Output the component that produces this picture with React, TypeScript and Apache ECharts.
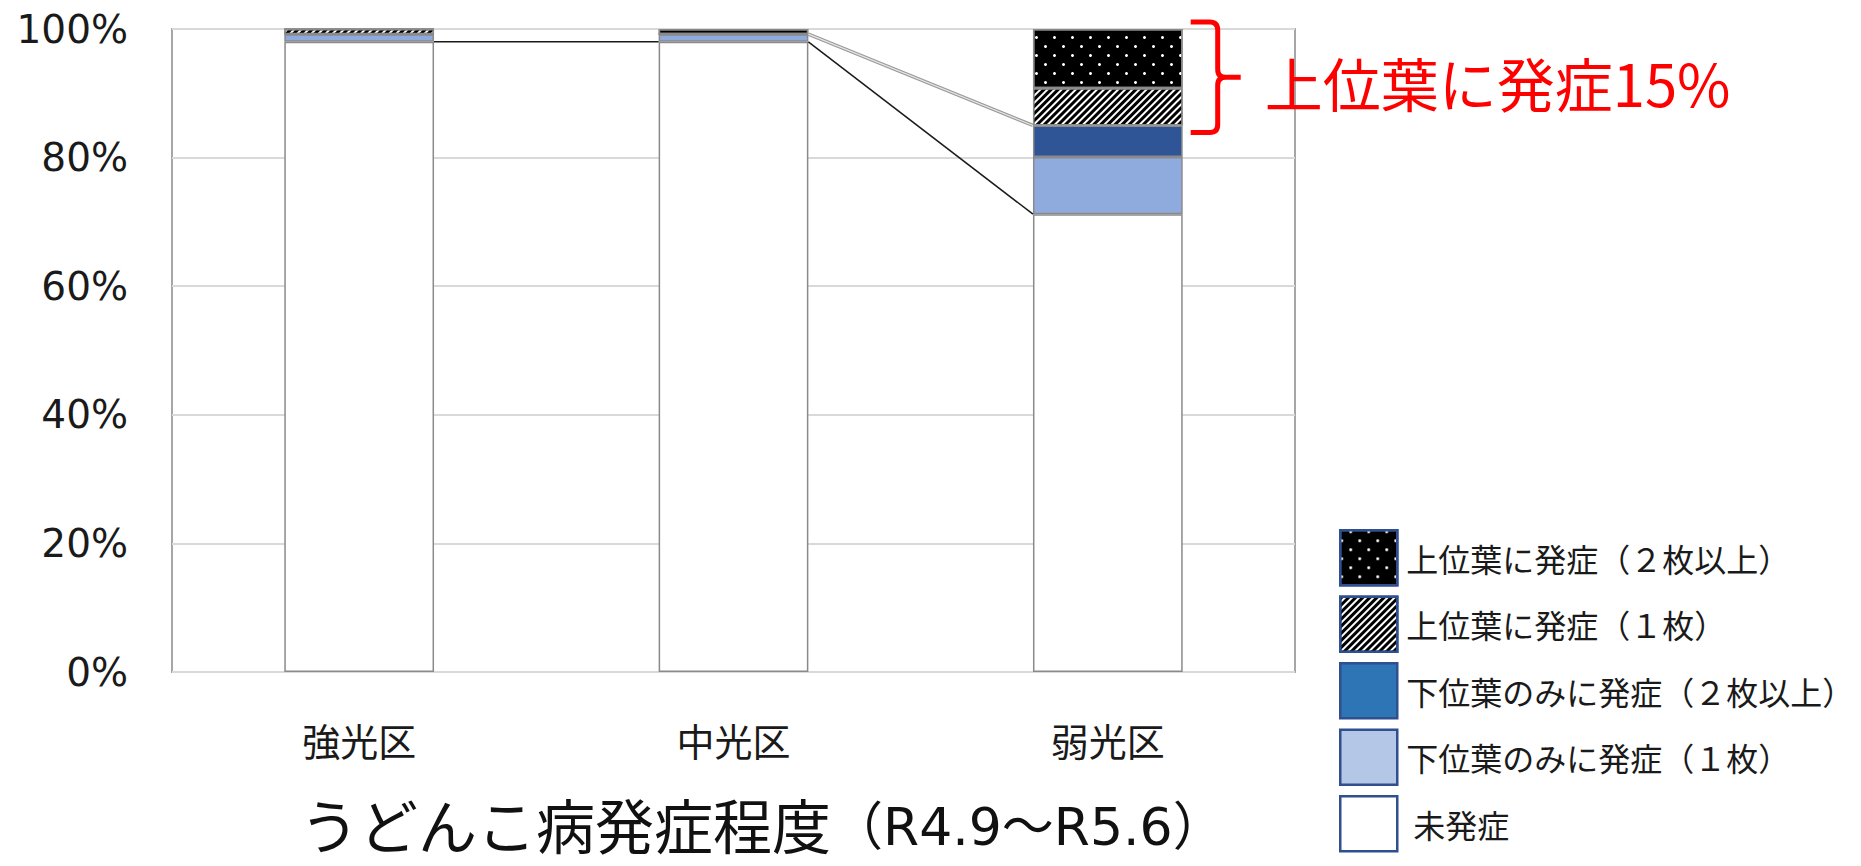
import { useEffect, useRef } from 'react';
import * as echarts from 'echarts';

// Plot categories and stacked shares (%), bottom to top
const categories = ['強光区', '中光区', '弱光区'];
const noSymptom = [98.0, 98.0, 71.2];
const lowerLeafOne = [1.2, 1.2, 8.9];
const lowerLeafTwoPlus = [0, 0, 4.9];
const upperLeafOne = [0.8, 0, 5.8];
const upperLeafTwoPlus = [0, 0.8, 9.2];

const seriesNames = [
  '未発症',
  '下位葉のみに発症（１枚）',
  '下位葉のみに発症（２枚以上）',
  '上位葉に発症（１枚）',
  '上位葉に発症（２枚以上）',
];
const legendOrder = [
  '上位葉に発症（２枚以上）',
  '上位葉に発症（１枚）',
  '下位葉のみに発症（２枚以上）',
  '下位葉のみに発症（１枚）',
  '未発症',
];

// y axis range and step (%)
const yMin = 0;
const yMax = 100;
const yStep = 20;

// Series lines between neighbouring bars: [from bar, to bar, number of stacked segments]
const seriesLinePairs = [
  [0, 1, 1],
  [1, 2, 1],
  [1, 2, 3],
];

// Bracket over the upper-leaf segments of the third bar: [bar, first segment, last segment]
const bracketSpan = [2, 3, 5];

const annotationText = '上位葉に発症15%';
const titleMain = 'うどんこ病発症程度';
const titleSub = '（R4.9～R5.6）';

const CJK = '"Noto Sans CJK JP", "Noto Sans", sans-serif';
const NUM = '"DejaVu Sans", sans-serif';

const stacks = [noSymptom, lowerLeafOne, lowerLeafTwoPlus, upperLeafOne, upperLeafTwoPlus];
const cumulative = (bar: number, depth: number) =>
  stacks.slice(0, depth).reduce((s, arr) => s + arr[bar], 0);

const barBorder = '#8a8a8a';

const dotDecal = {
  symbol: 'circle',
  symbolSize: 1,
  color: '#ffffff',
  dashArrayX: [
    [3, 15],
    [0, 9, 3, 6],
  ],
  dashArrayY: [3, 6],
  rotation: 0,
};

const hatchDecal = {
  symbol: 'rect',
  symbolSize: 1,
  color: '#000000',
  dashArrayX: [1, 0],
  dashArrayY: [3, 2],
  rotation: -Math.PI / 4,
};

const barStyles = [
  { color: '#ffffff' },
  { color: '#8faadc' },
  { color: '#2f5597' },
  { color: '#ffffff', decal: hatchDecal },
  { color: '#000000', decal: dotDecal },
];

const legendColors: Record<string, string> = {
  '上位葉に発症（２枚以上）': '#000000',
  '上位葉に発症（１枚）': '#ffffff',
  '下位葉のみに発症（２枚以上）': '#2e75b6',
  '下位葉のみに発症（１枚）': '#b4c7e7',
  '未発症': '#ffffff',
};

export default function App() {
  const ref = useRef<HTMLDivElement>(null);

  useEffect(() => {
    if (!ref.current) return;
    const chart = echarts.init(ref.current, undefined, { renderer: 'svg' });

    const barSeries = stacks.map((values, i) => ({
      type: 'bar',
      name: seriesNames[i],
      stack: 'share',
      data: values,
      barWidth: '40%',
      itemStyle: {
        ...barStyles[i],
        borderColor: barBorder,
        borderWidth: 1.5,
      },
      emphasis: { disabled: true },
      z: 2,
    }));

    const lineData = seriesLinePairs.map(([a, b, d]) => [a, cumulative(a, d), b, cumulative(b, d), d]);

    const seriesLines = {
      type: 'custom',
      name: 'series-lines',
      coordinateSystem: 'cartesian2d',
      clip: false,
      silent: true,
      z: 3,
      encode: { x: 0, y: 1 },
      data: lineData,
      renderItem: (_params: any, api: any) => {
        const a = api.value(0);
        const va = api.value(1);
        const b = api.value(2);
        const vb = api.value(3);
        const depth = api.value(4);
        const half = api.size([1, 0])[0] * 0.2;
        const pa = api.coord([a, va]);
        const pb = api.coord([b, vb]);
        const shape = { x1: pa[0] + half, y1: pa[1], x2: pb[0] - half, y2: pb[1] };
        if (depth === 1) {
          return { type: 'line', shape, style: { stroke: '#1a1a1a', lineWidth: 1.5 } };
        }
        return {
          type: 'group',
          children: [
            { type: 'line', shape, style: { stroke: '#9a9a9a', lineWidth: 3.5 } },
            { type: 'line', shape, style: { stroke: '#e6e6e6', lineWidth: 1.2 } },
          ],
        };
      },
    };

    const [bBar, bFrom, bTo] = bracketSpan;
    const bracket = {
      type: 'custom',
      name: 'bracket',
      coordinateSystem: 'cartesian2d',
      clip: false,
      silent: true,
      z: 4,
      encode: { x: 0, y: 1 },
      data: [[bBar, cumulative(bBar, bFrom), cumulative(bBar, bTo)]],
      renderItem: (_params: any, api: any) => {
        const bar = api.value(0);
        const low = api.coord([bar, api.value(1)]);
        const high = api.coord([bar, api.value(2)]);
        const half = api.size([1, 0])[0] * 0.2;
        const x0 = high[0] + half + 8;
        const xs = x0 + 27;
        const x2 = xs + 23;
        const yT = high[1] - 7;
        const yB = low[1] + 7;
        const yM = (yT + yB) / 2;
        const r = 8;
        const d =
          `M${x0},${yT} L${xs - r},${yT} Q${xs},${yT} ${xs},${yT + r} ` +
          `L${xs},${yM - r} Q${xs},${yM} ${xs + r},${yM} L${x2},${yM} ` +
          `M${xs + r},${yM} Q${xs},${yM} ${xs},${yM + r} ` +
          `L${xs},${yB - r} Q${xs},${yB} ${xs - r},${yB} L${x0},${yB}`;
        return {
          type: 'group',
          children: [
            {
              type: 'path',
              shape: { pathData: d },
              style: { stroke: '#ff0000', lineWidth: 5, fill: 'none' },
            },
            {
              type: 'text',
              x: x2 + 24,
              y: yM + 5,
              style: {
                text: annotationText,
                fill: '#ff0000',
                font: `58px ${CJK}`,
                verticalAlign: 'middle',
                align: 'left',
              },
            },
          ],
        };
      },
    };

    chart.setOption({
      animation: false,
      backgroundColor: '#ffffff',
      title: {
        text: `{a|${titleMain}}{b|${titleSub}}`,
        left: 300,
        top: 791,
        padding: 0,
        textStyle: {
          fontWeight: 'normal',
          rich: {
            a: {
              fontSize: 59,
              lineHeight: 62,
              fontFamily: CJK,
              fontWeight: 'normal',
              color: '#111111',
              verticalAlign: 'bottom',
            },
            b: {
              fontSize: 52,
              lineHeight: 62,
              fontFamily: '"DejaVu Sans", "Noto Sans CJK JP", sans-serif',
              fontWeight: 'normal',
              color: '#111111',
              verticalAlign: 'bottom',
            },
          },
        },
      },
      grid: {
        left: 172,
        top: 29,
        right: 1861 - 1295,
        bottom: 866 - 672,
        show: true,
        borderColor: '#a6a6a6',
        borderWidth: 2,
        backgroundColor: 'transparent',
      },
      legend: {
        orient: 'vertical',
        left: 1339,
        top: 529,
        padding: 0,
        itemWidth: 57,
        itemHeight: 55,
        itemGap: 9,
        icon: 'rect',
        selectedMode: false,
        data: legendOrder.map((name) => ({
          name,
          itemStyle: {
            color: legendColors[name],
            borderColor: '#2f4f8f',
            borderWidth: 2.5,
          },
          textStyle: name === '未発症' ? { padding: [0, 0, 0, 11] } : undefined,
        })),
        textStyle: {
          fontSize: 32,
          fontFamily: CJK,
          color: '#1a1a1a',
          padding: [0, 0, 0, 4],
        },
      },
      xAxis: {
        type: 'category',
        data: categories,
        axisLine: { show: false },
        axisTick: { show: false },
        axisLabel: { fontSize: 38, fontFamily: CJK, color: '#1a1a1a', margin: 48 },
      },
      yAxis: {
        type: 'value',
        min: yMin,
        max: yMax,
        interval: yStep,
        axisLine: { show: false },
        axisTick: { show: false },
        splitLine: { lineStyle: { color: '#d9d9d9', width: 2 } },
        axisLabel: {
          fontSize: 39,
          fontFamily: NUM,
          color: '#1a1a1a',
          margin: 44,
          formatter: '{value}%',
        },
      },
      series: [...barSeries, seriesLines, bracket],
    });

    return () => chart.dispose();
  }, []);

  return (
    <div
      ref={ref}
      style={{ position: 'fixed', left: 0, top: 0, width: 1861, height: 866, background: '#fff' }}
    />
  );
}
